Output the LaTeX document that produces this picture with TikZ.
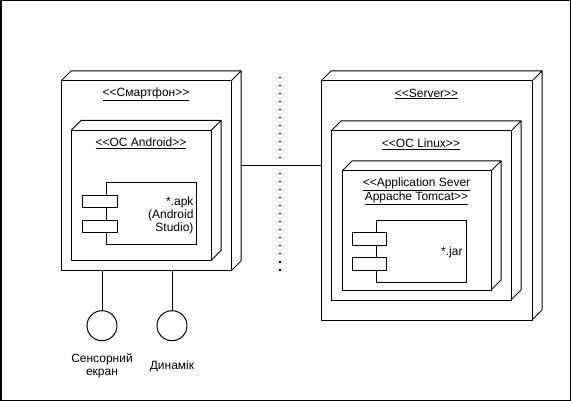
\documentclass[tikz,border=0pt]{standalone}
\usepackage{fontspec}
\setmainfont{Liberation Sans}
\usepackage{tikz}
\usetikzlibrary{calc,positioning}

\tikzset{
  devnode/.style={draw, line width=1pt, outer sep=0pt, inner sep=0pt},
  comp/.style={draw, fill=white, line width=1pt, outer sep=0pt, inner sep=0pt},
  port/.style={comp, minimum width=35, minimum height=12},
  iface/.style={draw, circle, line width=1pt, minimum size=30, inner sep=0pt, outer sep=0pt},
  stereo/.style={font=\fontsize{12}{13}\selectfont, align=center, inner sep=0pt},
}

\begin{document}
\begin{tikzpicture}[x=1pt, y=-1pt, line width=1pt]
    \useasboundingbox (0,0) rectangle (571,401);
    \draw[line width=1.5pt] (0.75,0.75) rectangle (570.25,400.25);

    % smartphone side
    \node[devnode, minimum width=170, minimum height=190] (phone) at (146,176) {};
    \node[stereo] (phonelbl) at ($(phone.north)+(0,13)$) {\underline{<{}<Смартфон>{}>}};
    \node[devnode, minimum width=140, minimum height=130] (android) at (141,195.5) {};
    \node[stereo] (androidlbl) at ($(android.north)+(0,13)$) {\underline{<{}<OC Android>{}>}};
    \node[comp, minimum width=90, minimum height=62] (apk) at (151,214) {};
    \node[port] (apkport1) at (99.8,201.5) {};
    \node[port] (apkport2) at (99.8,226.7) {};
    \node[stereo, align=right, anchor=east] (apktxt) at ($(apk.east)+(-2,1)$) {*.apk\\(Android\\Studio)};

    % server side
    \node[devnode, minimum width=211, minimum height=239] (server) at (426.5,200.5) {};
    \node[stereo] (serverlbl) at ($(server.north)+(0,13)$) {\underline{<{}<Server>{}>}};
    \node[devnode, minimum width=180, minimum height=169] (linux) at (421,215.5) {};
    \node[stereo] (linuxlbl) at ($(linux.north)+(0,13)$) {\underline{<{}<OC Linux>{}>}};
    \node[devnode, minimum width=149, minimum height=119] (tomcat) at (416.5,230.5) {};
    \node[stereo] (tomcatlbl) at ($(tomcat.north)+(0,20.5)$) {\underline{<{}<Application Sever}\\\underline{Appache Tomcat>{}>}};
    \node[comp, minimum width=90, minimum height=61] (jar) at (421,251.5) {};
    \node[port, minimum width=34, minimum height=12.5] (jarport1) at (369.7,238.8) {};
    \node[port, minimum width=34, minimum height=12.5] (jarport2) at (369.7,264.2) {};
    \node[stereo, anchor=east] (jartxt) at ($(jar.east)+(-3,1)$) {*.jar};

    % 3d sides of the nodes
    \foreach \n in {phone,android,server,linux,tomcat}
        \draw (\n.north west) -- ++(10,-10) -| ($(\n.south east)+(10,-10)$) -- (\n.south east)
              (\n.north east) -- ++(10,-10);

    % link and border line
    \coordinate (phoneback) at ($(phone.east)+(10,-10)$);
    \draw (phoneback) -- (phoneback -| server.west);
    \coordinate (dtop) at (280,77);
    \coordinate (dbot) at (280,271);
    \draw[line width=1.5pt, dash pattern=on 1.5pt off 6.5pt] (dtop) -- (dbot);

    % interfaces
    \node[iface] (touch) at (102,325.7) {};
    \node[iface] (speaker) at (172,325.7) {};
    \draw (touch) -- (touch |- phone.south);
    \draw (speaker) -- (speaker |- phone.south);
    \node[stereo] (touchlbl) at (102,366) {Сенсорний\\екран};
    \node[stereo] (speakerlbl) at (172,366) {Динамік};
\end{tikzpicture}
\end{document}
